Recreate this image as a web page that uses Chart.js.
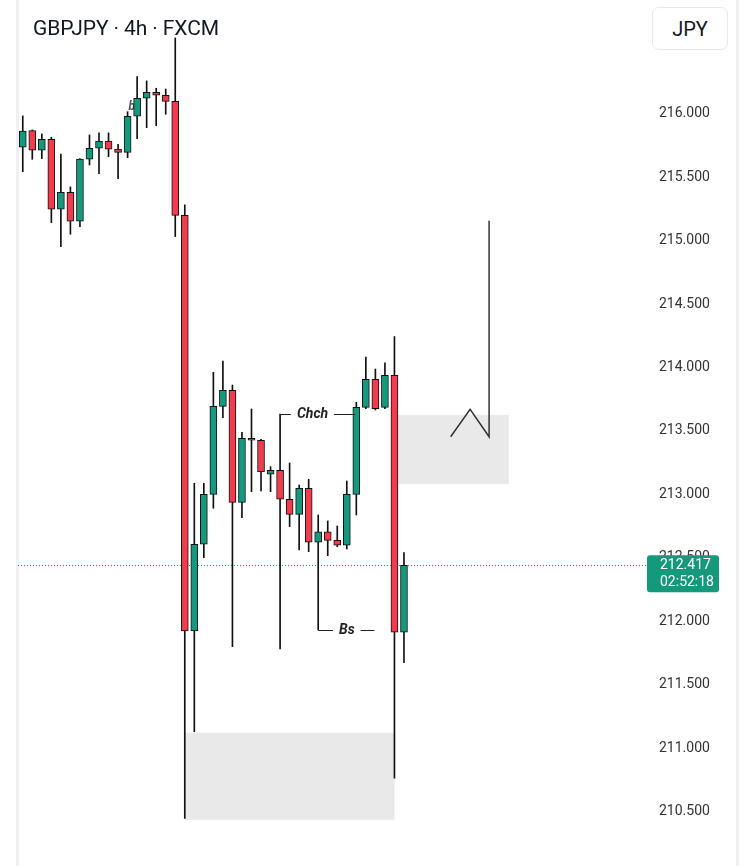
<!DOCTYPE html>
<html>
<head>
<meta charset="utf-8">
<script src="https://cdn.jsdelivr.net/npm/chart.js@4.4.1/dist/chart.umd.min.js"></script>
<style>
  html, body { margin: 0; padding: 0; background: #ffffff; }
  #wrap { position: relative; width: 755px; height: 866px; overflow: hidden; background: #fff; }
  #c { position: absolute; left: 0; top: 0; }
  #title { position: absolute; left: 33px; top: 16px; font-family: Roboto, sans-serif; font-size: 21px; color: #131722; letter-spacing: -0.1px; }
  #btn { position: absolute; left: 652px; top: 7px; width: 76px; height: 43px; border: 1px solid #e6e8ee; border-radius: 7px; box-sizing: border-box;
         font-family: Roboto, sans-serif; font-size: 20px; color: #131722; display: flex; align-items: center; justify-content: center; background: #fff; }
</style>
</head>
<body>
<div id="wrap">
  <canvas id="c" width="755" height="866"></canvas>
  <div id="title">GBPJPY · 4h · FXCM</div>
  <div id="btn">JPY</div>
</div>
<script>
// ---- data (GBPJPY 4h candles) ----
const opens  = [215.714,215.845,215.690,215.777,215.225,215.359,215.130,215.619,215.706,215.763,
                215.700,215.674,215.958,216.100,216.147,216.124,216.076,215.177,211.899,212.583,
                212.977,213.671,213.797,212.914,213.419,213.403,213.135,213.166,212.938,212.819,
                213.025,212.599,212.682,212.614,212.575,212.977,213.663,213.884,213.663,213.916,
                211.889];
const highs  = [215.961,215.850,215.819,215.793,215.659,215.401,215.624,215.811,215.827,215.827,
                215.737,215.994,216.271,216.237,216.179,216.173,216.576,215.259,213.064,213.064,
                213.939,214.028,213.839,213.466,213.650,213.410,213.195,213.610,213.224,213.050,
                213.095,212.814,212.767,212.727,213.082,213.703,214.060,213.965,214.013,214.220,
                212.517];
const lows   = [215.521,215.619,215.624,215.119,214.930,215.028,215.088,215.574,215.506,215.640,
                215.466,215.632,215.782,215.868,215.884,215.974,215.009,210.422,211.105,212.477,
                212.867,213.581,211.775,212.793,212.998,213.003,212.998,211.757,212.722,212.538,
                212.525,211.907,212.493,212.564,212.546,212.814,213.652,213.642,213.652,210.738,
                211.649];
const closes = [215.842,215.690,215.777,215.225,215.359,215.130,215.621,215.706,215.763,215.698,
                215.674,215.958,216.100,216.147,216.124,216.076,215.177,211.899,212.583,212.977,
                213.671,213.797,212.914,213.419,213.403,213.155,213.166,212.938,212.819,213.025,
                212.599,212.682,212.614,212.575,212.977,213.663,213.884,213.652,213.916,211.889,
                212.417];
const totalSlots = 66;                 // candles + empty space to the right
const yTicks = [210.5,211.0,211.5,212.0,212.5,213.0,213.5,214.0,214.5,215.0,215.5,216.0];
const lastPrice = 212.417;
const countdown = "02:52:18";
// zones: [fromIndex, toIndex, top, bottom]
const zoneLow  = [17, 39, 211.097, 210.410];
const zoneHigh = [39, 51, 213.603, 213.058];
// drawn path (index, price)
const pathIdx   = [44.9, 46.94, 48.93, 48.93];
const pathPrice = [213.431, 213.647, 213.431, 215.135];
// labels: [text, fromIdx, toIdx, textIdx, price]
const chchLabel = ["Chch", 27, 34.9, 30.4, 213.610];
const bsLabel   = ["Bs", 31, 36.9, 34.0, 211.907];
const faintLabel = ["bs", 11.75, 216.03];

// ---- build ----
const labels = Array.from({length: totalSlots}, (_, i) => String(i));
const GREEN = '#14997d', RED = '#f03c4c';
const bodies = opens.map((o, i) => [o, closes[i]]);
const wicks  = lows.map((l, i) => [l, highs[i]]);
const colors = opens.map((o, i) => closes[i] >= o ? GREEN : RED);

const annot = {
  id: 'annot',
  beforeDatasetsDraw(chart) {
    const {ctx, scales: {x, y}, chartArea: a} = chart;
    ctx.save();
    // side borders
    ctx.fillStyle = '#f0f0f2';
    ctx.fillRect(16, 0, 3, 866);
    ctx.fillRect(736, 0, 3, 866);
    // zones
    ctx.fillStyle = '#e9e9e9';
    for (const z of [zoneLow, zoneHigh]) {
      const x0 = x.getPixelForValue(z[0]), x1 = x.getPixelForValue(z[1]);
      const y0 = y.getPixelForValue(z[2]), y1 = y.getPixelForValue(z[3]);
      ctx.fillRect(x0, y0, x1 - x0, y1 - y0);
    }
    // dotted last price line
    const py = Math.round(y.getPixelForValue(lastPrice)) + 0.5;
    ctx.strokeStyle = '#14997d';
    ctx.lineWidth = 1;
    ctx.setLineDash([1, 2]);
    ctx.beginPath(); ctx.moveTo(a.left, py); ctx.lineTo(a.right, py); ctx.stroke();
    ctx.setLineDash([]);
    // faint label
    ctx.fillStyle = '#555';
    ctx.font = 'italic bold 12px Roboto, sans-serif';
    ctx.textAlign = 'center'; ctx.textBaseline = 'middle';
    ctx.fillText(faintLabel[0], x.getPixelForValue(faintLabel[1]), y.getPixelForValue(faintLabel[2]));
    ctx.restore();
  },
  afterDatasetsDraw(chart) {
    const {ctx, scales: {x, y}} = chart;
    ctx.save();
    // path
    ctx.strokeStyle = '#333';
    ctx.lineWidth = 1.5;
    ctx.beginPath();
    pathIdx.forEach((v, i) => {
      const px = x.getPixelForValue(v), py = y.getPixelForValue(pathPrice[i]);
      if (i === 0) ctx.moveTo(px, py); else ctx.lineTo(px, py);
    });
    ctx.stroke();
    // text labels with lines
    ctx.font = 'italic bold 14px Roboto, sans-serif';
    ctx.textAlign = 'center'; ctx.textBaseline = 'middle';
    ctx.lineWidth = 1;
    for (const L of [chchLabel, bsLabel]) {
      const yy = Math.round(y.getPixelForValue(L[4])) + 0.5;
      const x0 = x.getPixelForValue(L[1]), x1 = x.getPixelForValue(L[2]);
      const tx = x.getPixelForValue(L[3]);
      const w = ctx.measureText(L[0]).width;
      ctx.strokeStyle = '#222';
      ctx.beginPath();
      ctx.moveTo(x0, yy); ctx.lineTo(tx - w / 2 - 6, yy);
      ctx.moveTo(tx + w / 2 + 6, yy); ctx.lineTo(x1, yy);
      ctx.stroke();
      ctx.fillStyle = '#222';
      ctx.fillText(L[0], tx, yy);
    }
    ctx.restore();
  },
  afterDraw(chart) {
    const {ctx, scales: {y}, chartArea: a} = chart;
    const py = y.getPixelForValue(lastPrice);
    ctx.save();
    const bx = a.right, bw = 72, bh = 37, by = py - 10;
    ctx.fillStyle = '#14997d';
    ctx.beginPath();
    ctx.roundRect(bx, by, bw, bh, 3);
    ctx.fill();
    ctx.fillStyle = '#ffffff';
    ctx.font = '14px Roboto, sans-serif';
    ctx.textAlign = 'left'; ctx.textBaseline = 'middle';
    ctx.fillText(lastPrice.toFixed(3), bx + 13, by + 10);
    ctx.fillText(countdown, bx + 13, by + 27);
    ctx.restore();
  }
};

new Chart(document.getElementById('c'), {
  type: 'bar',
  data: {
    labels,
    datasets: [
      { label: 'body', data: bodies, backgroundColor: colors, borderColor: '#111', borderWidth: 1,
        borderSkipped: false, barThickness: 7, grouped: false, minBarLength: 2 },
      { label: 'wick', data: wicks, backgroundColor: '#111', borderWidth: 0,
        barThickness: 1, grouped: false }
    ]
  },
  options: {
    responsive: false,
    animation: false,
    layout: { padding: { left: 18, right: 0, top: 0, bottom: 0 } },
    plugins: { legend: { display: false }, tooltip: { enabled: false } },
    scales: {
      x: { type: 'category', display: false, offset: true },
      y: {
        position: 'right',
        min: 210.046, max: 216.875,
        grid: { display: false, drawTicks: false },
        border: { display: false },
        afterBuildTicks(s) { s.ticks = yTicks.map(v => ({ value: v })); },
        afterFit(s) { s.width = 108; s.paddingTop = 0; s.paddingBottom = 0; },
        ticks: {
          color: '#333', padding: 12, crossAlign: 'near', labelOffset: 3,
          font: { family: 'Roboto', size: 14 },
          callback: v => Number(v).toFixed(3)
        }
      }
    }
  },
  plugins: [annot]
});
</script>
</body>
</html>
